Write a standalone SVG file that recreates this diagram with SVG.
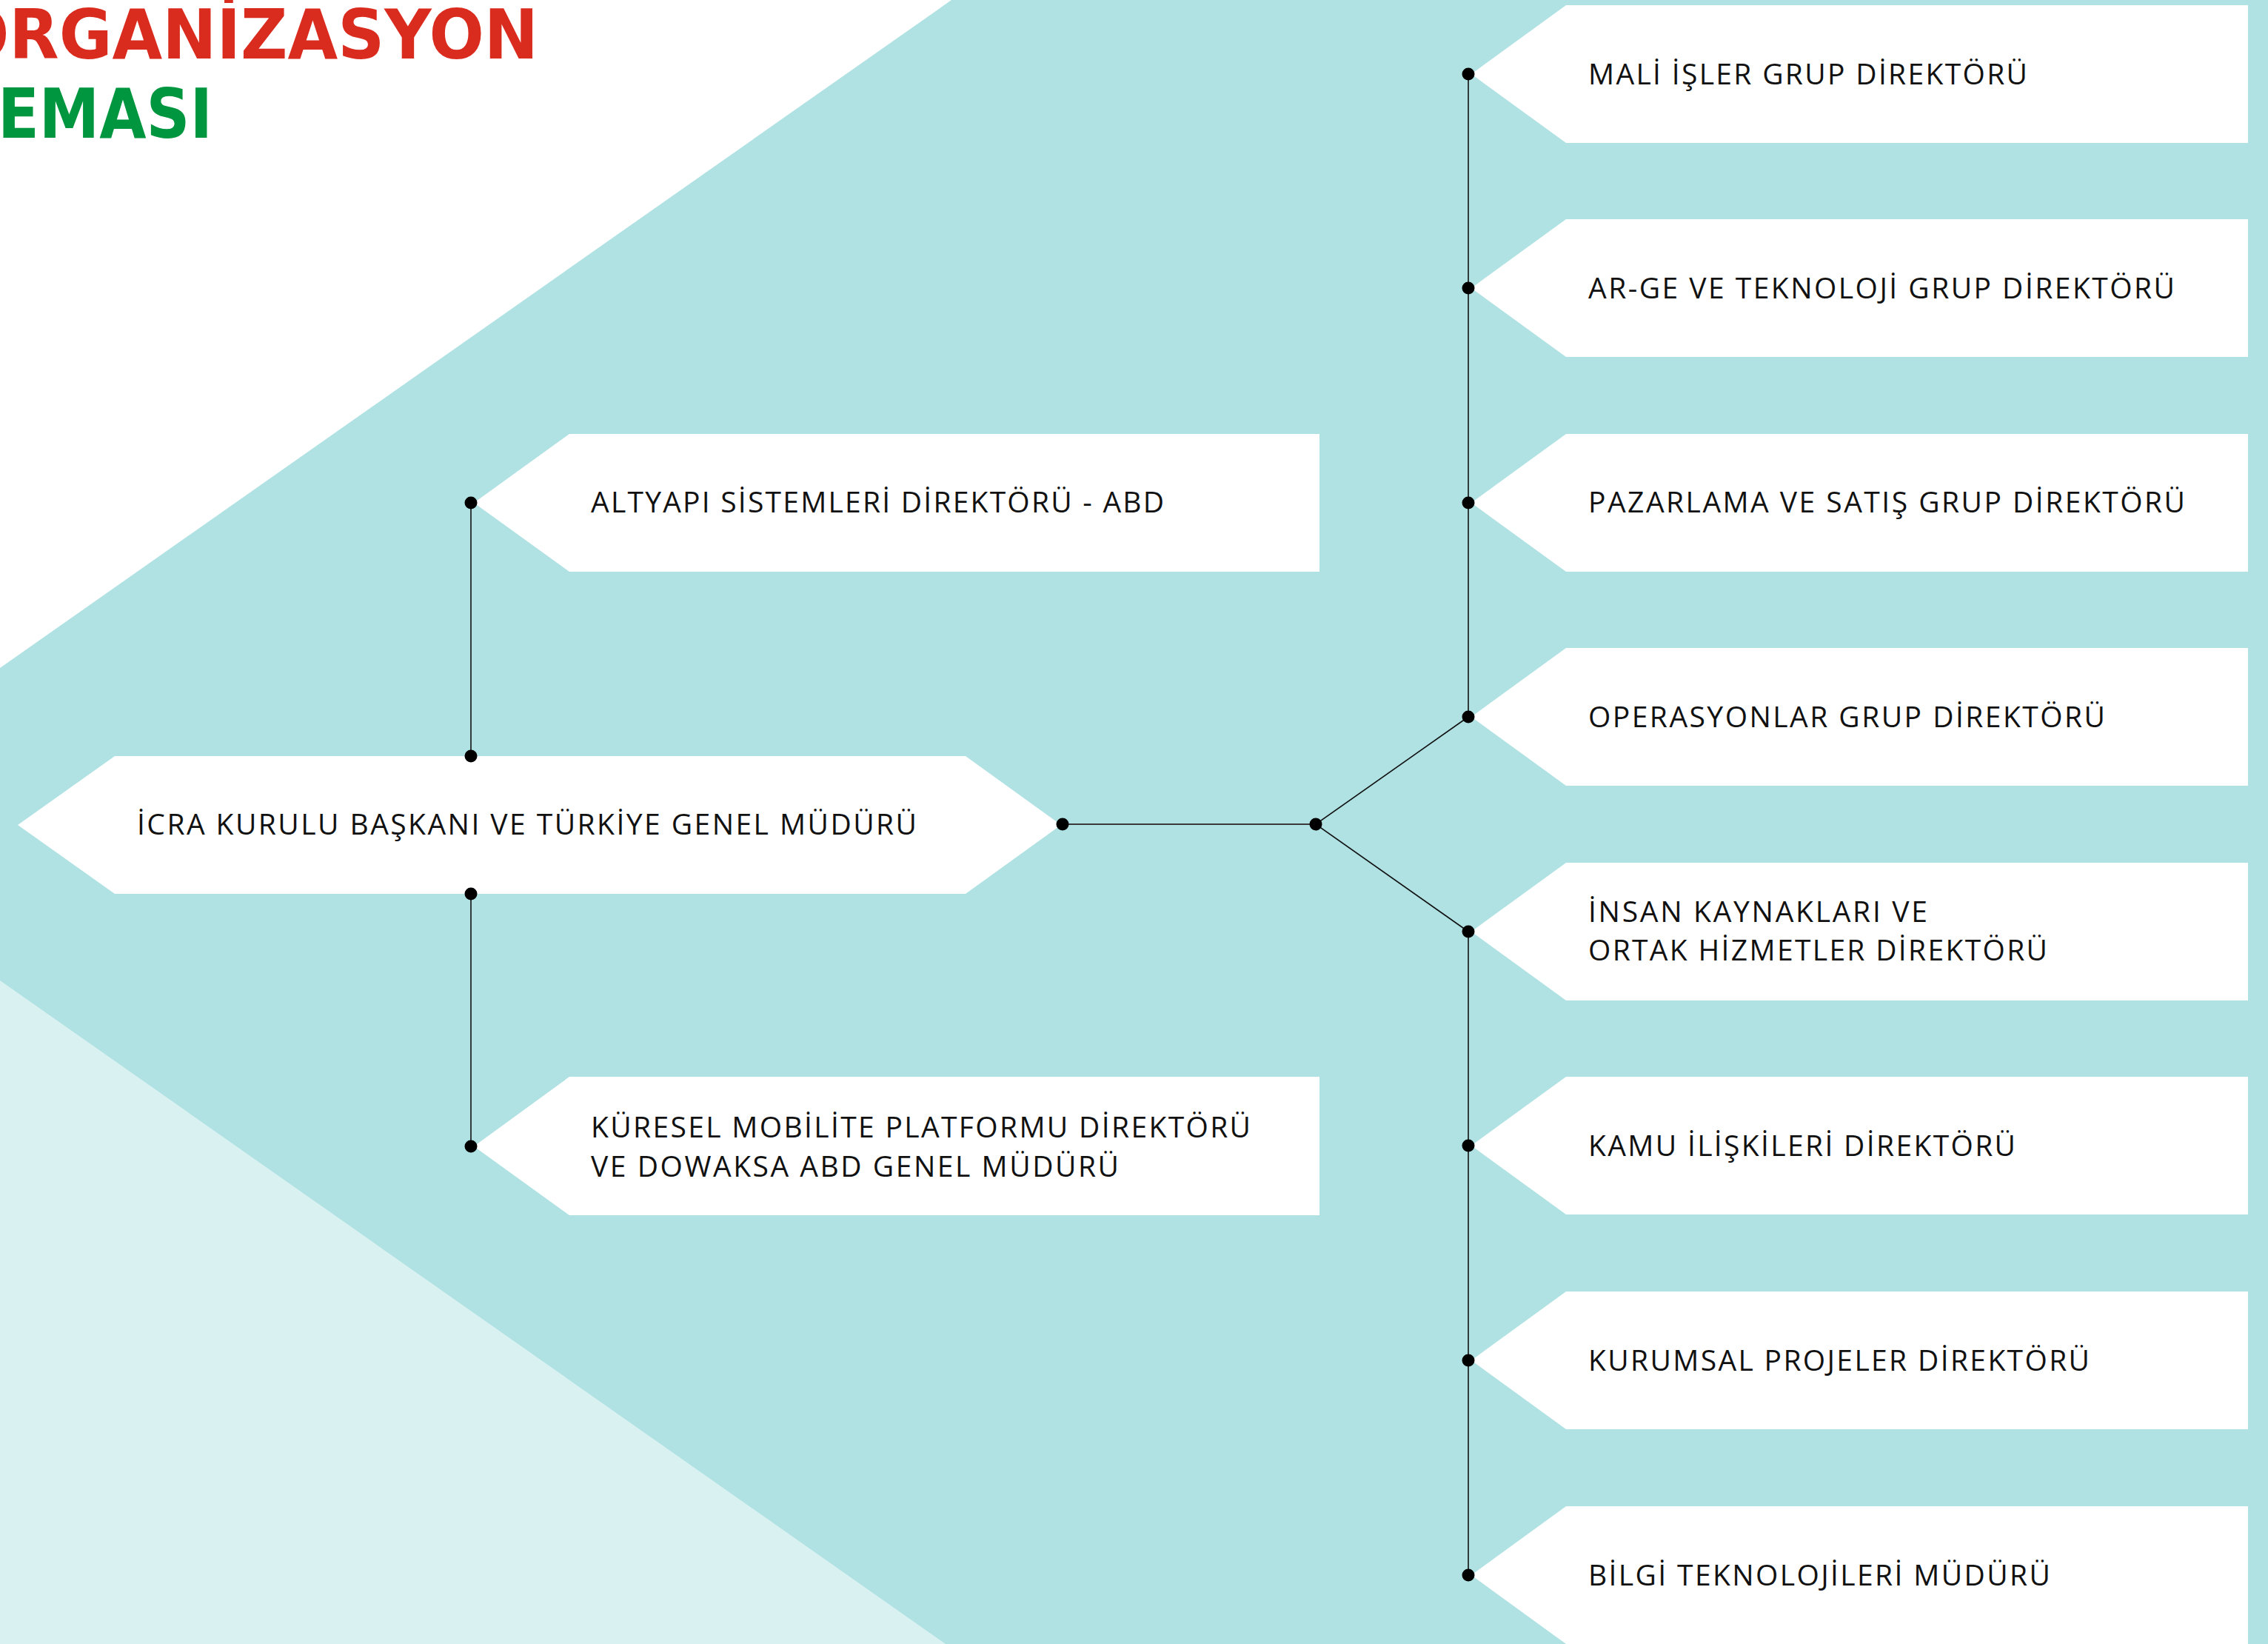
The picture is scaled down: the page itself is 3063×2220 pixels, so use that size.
<svg xmlns="http://www.w3.org/2000/svg" width="3063" height="2220" viewBox="0 0 3063 2220">
<style>
.bg{fill:#B0E2E3}
.wh{fill:#FFFFFF}
.lt{fill:#DAF1F2}
.node{fill:#FFFFFF}
.lbl{font-family:"Open Sans","Noto Sans","Liberation Sans",sans-serif;font-size:39px;fill:#111111;letter-spacing:3px}
.ln{stroke:#111111;stroke-width:1.6;fill:none}
.dot{fill:#000000}
.t1{font-family:"DejaVu Sans","Liberation Sans",sans-serif;font-weight:bold;font-size:92px;fill:#DA2B1F}
.t2{font-family:"DejaVu Sans","Liberation Sans",sans-serif;font-weight:bold;font-size:92px;fill:#00963F}
</style>
<g id="background">
<rect class="bg" x="0" y="0" width="3063" height="2220"/>
<polygon class="wh" points="0,0 1285,0 0,902"/>
<polygon class="lt" points="0,1324 1277,2220 0,2220"/>
</g>
<g id="title">
<text class="t1" x="-62" y="79" textLength="789" lengthAdjust="spacingAndGlyphs">ORGANİZASYON</text>
<text class="t2" x="-62" y="186" textLength="349" lengthAdjust="spacingAndGlyphs">ŞEMASI</text>
</g>
<g id="node-icra">
<polygon class="node" points="24,1114 155,1021 1304,1021 1433,1114 1304,1207 155,1207"/>
<text class="lbl" x="185" y="1127" textLength="1056" lengthAdjust="spacing">İCRA KURULU BAŞKANI VE TÜRKİYE GENEL MÜDÜRÜ</text>
</g>
<g id="node-altyapi">
<polygon class="node" points="640,679 769,586 1782,586 1782,772 769,772"/>
<text class="lbl" x="798" y="692" textLength="777" lengthAdjust="spacing">ALTYAPI SİSTEMLERİ DİREKTÖRÜ - ABD</text>
</g>
<g id="node-kuresel">
<polygon class="node" points="640,1548 769,1454 1782,1454 1782,1641 769,1641"/>
<text class="lbl" x="798" y="1536" textLength="894" lengthAdjust="spacing">KÜRESEL MOBİLİTE PLATFORMU DİREKTÖRÜ</text>
<text class="lbl" x="798" y="1589" textLength="716" lengthAdjust="spacing">VE DOWAKSA ABD GENEL MÜDÜRÜ</text>
</g>
<g id="node-mali">
<polygon class="node" points="1987,100 2115,7 3036,7 3036,193 2115,193"/>
<text class="lbl" x="2145" y="114" textLength="596" lengthAdjust="spacing">MALİ İŞLER GRUP DİREKTÖRÜ</text>
</g>
<g id="node-arge">
<polygon class="node" points="1987,389 2115,296 3036,296 3036,482 2115,482"/>
<text class="lbl" x="2145" y="403" textLength="795" lengthAdjust="spacing">AR-GE VE TEKNOLOJİ GRUP DİREKTÖRÜ</text>
</g>
<g id="node-pazarlama">
<polygon class="node" points="1987,679 2115,586 3036,586 3036,772 2115,772"/>
<text class="lbl" x="2145" y="692" textLength="809" lengthAdjust="spacing">PAZARLAMA VE SATIŞ GRUP DİREKTÖRÜ</text>
</g>
<g id="node-operasyonlar">
<polygon class="node" points="1987,968 2115,875 3036,875 3036,1061 2115,1061"/>
<text class="lbl" x="2145" y="982" textLength="701" lengthAdjust="spacing">OPERASYONLAR GRUP DİREKTÖRÜ</text>
</g>
<g id="node-ik">
<polygon class="node" points="1987,1258 2115,1165 3036,1165 3036,1351 2115,1351"/>
<text class="lbl" x="2145" y="1245" textLength="461" lengthAdjust="spacing">İNSAN KAYNAKLARI VE</text>
<text class="lbl" x="2145" y="1297" textLength="623" lengthAdjust="spacing">ORTAK HİZMETLER DİREKTÖRÜ</text>
</g>
<g id="node-kamu">
<polygon class="node" points="1987,1547 2115,1454 3036,1454 3036,1640 2115,1640"/>
<text class="lbl" x="2145" y="1561" textLength="580" lengthAdjust="spacing">KAMU İLİŞKİLERİ DİREKTÖRÜ</text>
</g>
<g id="node-kurumsal">
<polygon class="node" points="1987,1837 2115,1744 3036,1744 3036,1930 2115,1930"/>
<text class="lbl" x="2145" y="1851" textLength="680" lengthAdjust="spacing">KURUMSAL PROJELER DİREKTÖRÜ</text>
</g>
<g id="node-bilgi">
<polygon class="node" points="1987,2127 2115,2034 3036,2034 3036,2220 2115,2220"/>
<text class="lbl" x="2145" y="2141" textLength="627" lengthAdjust="spacing">BİLGİ TEKNOLOJİLERİ MÜDÜRÜ</text>
</g>
<g id="connectors">
<line class="ln" x1="636" y1="679" x2="636" y2="1021"/>
<line class="ln" x1="636" y1="1207" x2="636" y2="1548"/>
<line class="ln" x1="1435" y1="1113" x2="1777" y2="1113" style="stroke:#3a3a3a;stroke-width:2"/>
<line class="ln" x1="1777" y1="1113" x2="1983" y2="968"/>
<line class="ln" x1="1777" y1="1113" x2="1983" y2="1258"/>
<line class="ln" x1="1983" y1="100" x2="1983" y2="968"/>
<line class="ln" x1="1983" y1="1258" x2="1983" y2="2127"/>
<circle class="dot" cx="636" cy="679" r="8.5"/>
<circle class="dot" cx="636" cy="1021" r="8.5"/>
<circle class="dot" cx="636" cy="1207" r="8.5"/>
<circle class="dot" cx="636" cy="1548" r="8.5"/>
<circle class="dot" cx="1435" cy="1113" r="8.5"/>
<circle class="dot" cx="1777" cy="1113" r="8.5"/>
<circle class="dot" cx="1983" cy="100" r="8.5"/>
<circle class="dot" cx="1983" cy="389" r="8.5"/>
<circle class="dot" cx="1983" cy="679" r="8.5"/>
<circle class="dot" cx="1983" cy="968" r="8.5"/>
<circle class="dot" cx="1983" cy="1258" r="8.5"/>
<circle class="dot" cx="1983" cy="1547" r="8.5"/>
<circle class="dot" cx="1983" cy="1837" r="8.5"/>
<circle class="dot" cx="1983" cy="2127" r="8.5"/>
</g>
</svg>
